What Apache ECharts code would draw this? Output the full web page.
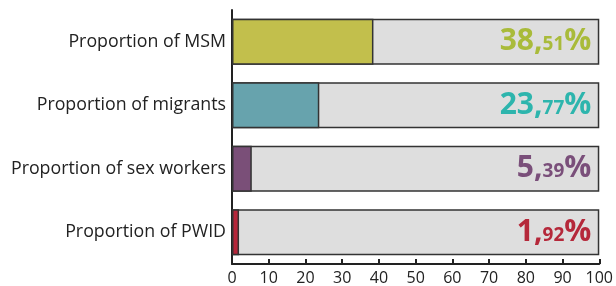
<!DOCTYPE html>
<html>
<head>
<meta charset="utf-8">
<script src="https://cdn.jsdelivr.net/npm/echarts@6/dist/echarts.min.js"></script>
<style>
  html, body { margin: 0; padding: 0; background: #fff; }
  #chart { width: 616px; height: 286px; }
</style>
</head>
<body>
<div id="chart"></div>
<script>
var categories = ["Proportion of MSM", "Proportion of migrants", "Proportion of sex workers", "Proportion of PWID"];
var values = [38.51, 23.77, 5.39, 1.92];
var barColors = ["#c2bf4c", "#67a3ad", "#7a4f78", "#b5263a"];
var labelColors = ["#a9bb3a", "#2db5ad", "#7a4f7a", "#b5283a"];
var fullValues = [100, 100, 100, 100];

var chart = echarts.init(document.getElementById("chart"));

function richFor(i) {
    var c = labelColors[i];
    return {
        a: { fontFamily: "Open Sans", fontWeight: "bold", fontSize: 30, color: c },
        b: { fontFamily: "Open Sans", fontWeight: "bold", fontSize: 19, color: c, padding: [6, 0, 0, 0] },
        c: { fontFamily: "Open Sans", fontWeight: "bold", fontSize: 30, color: c }
    };
}

chart.setOption({
    animation: false,
    grid: { left: 232, right: 16, top: 10, bottom: 20 },
    xAxis: {
        type: "value",
        min: 0,
        max: 100,
        interval: 10,
        axisLine: { show: true, lineStyle: { color: "#222", width: 2 } },
        axisTick: { show: true, inside: true, length: 5, lineStyle: { color: "#222", width: 2 } },
        axisLabel: { color: "#222", fontSize: 16, fontFamily: "Open Sans", margin: 6 },
        splitLine: { show: false }
    },
    yAxis: {
        type: "category",
        inverse: true,
        data: categories,
        axisLine: { show: true, lineStyle: { color: "#222", width: 2 } },
        axisTick: { show: false },
        axisLabel: { color: "#222", fontSize: 17.8, fontFamily: "Open Sans", margin: 6 }
    },
    series: [{
        type: "bar",
        data: fullValues.map(function (v, i) {
            var parts = values[i].toFixed(2).split(".");
            return {
                value: v,
                label: {
                    show: true,
                    position: "insideRight",
                    distance: 8,
                    formatter: "{a|" + parts[0] + ",}{b|" + parts[1] + "}{c|%}",
                    rich: richFor(i)
                }
            };
        }),
        barWidth: 46,
        itemStyle: { color: "#dedede", borderColor: "#333", borderWidth: 1.5 },
        z: 1
    }, {
        type: "bar",
        data: values.map(function (v, i) {
            return { value: v, itemStyle: { color: barColors[i] } };
        }),
        barWidth: 46,
        barGap: "-100%",
        itemStyle: { borderColor: "#333", borderWidth: 1.5 },
        z: 2
    }]
});
</script>
</body>
</html>
